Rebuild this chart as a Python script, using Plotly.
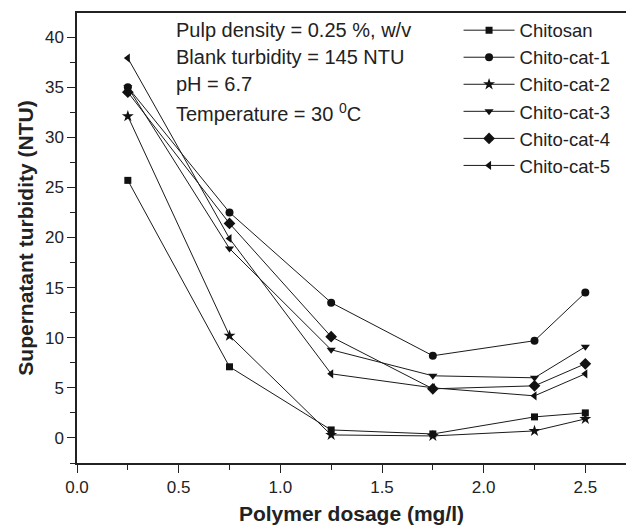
import plotly.graph_objects as go

dosage = [0.25, 0.75, 1.25, 1.75, 2.25, 2.5]
chitosan = [25.7, 7.1, 0.8, 0.4, 2.1, 2.5]
cat1 = [35.0, 22.5, 13.5, 8.2, 9.7, 14.5]
cat2 = [32.1, 10.2, 0.3, 0.2, 0.7, 1.9]
cat3 = [35.0, 18.9, 8.8, 6.2, 6.0, 9.1]
cat4 = [34.5, 21.4, 10.1, 4.9, 5.2, 7.4]
cat5 = [37.9, 19.9, 6.4, 5.0, 4.2, 6.4]

names = ["Chitosan", "Chito-cat-1", "Chito-cat-2", "Chito-cat-3", "Chito-cat-4", "Chito-cat-5"]
series = [chitosan, cat1, cat2, cat3, cat4, cat5]
symbols = ["square", "circle", "star", "triangle-down", "diamond", "triangle-left"]
sizes = [7, 8, 9, 8, 9, 8]

info_lines = ["Pulp density = 0.25 %, w/v", "Blank turbidity = 145 NTU", "pH = 6.7",
              "Temperature = 30 <sup>0</sup>C"]
info_y = [0.962, 0.902, 0.842, 0.778]

fig = go.Figure()
for i, (n, s, sym, sz) in enumerate(zip(names, series, symbols, sizes)):
    fig.add_trace(go.Scatter(
        x=dosage, y=s, name=n, mode="lines+markers",
        line=dict(color="#1a1a1a", width=1),
        marker=dict(symbol=sym, size=sz, color="#111111"),
    ))

font = "Liberation Sans, Arial, sans-serif"
for t, yy in zip(info_lines, info_y):
    fig.add_annotation(
        x=0.176, y=yy, xref="paper", yref="paper", xanchor="left", yanchor="middle",
        align="left", showarrow=False, text=t,
        font=dict(family=font, size=20, color="#222"),
    )

fig.update_layout(
    width=626, height=526,
    margin=dict(l=77, r=0, t=13, b=63),
    paper_bgcolor="white", plot_bgcolor="white",
    font=dict(family=font, size=17, color="#222"),
    showlegend=True,
    legend=dict(x=0.695, y=1.003, xanchor="left", yanchor="top",
                font=dict(family=font, size=18.5, color="#222"),
                itemwidth=51, bgcolor="rgba(0,0,0,0)", borderwidth=0),
    xaxis=dict(range=[0, 2.7], tickvals=[0, 0.5, 1.0, 1.5, 2.0, 2.5],
               ticktext=["0.0", "0.5", "1.0", "1.5", "2.0", "2.5"],
               ticks="outside", ticklen=8, tickcolor="#222", showgrid=False, zeroline=False,
               showline=True, linecolor="#222", linewidth=1.5, mirror=True,
               minor=dict(tickvals=[0.25, 0.75, 1.25, 1.75, 2.25], ticks="outside", ticklen=5, tickcolor="#222"),
               title=dict(text="<b>Polymer dosage (mg/l)</b>", font=dict(family=font, size=21), standoff=10),
               tickfont=dict(size=17)),
    yaxis=dict(range=[-2.5, 42.4], tickvals=[0, 5, 10, 15, 20, 25, 30, 35, 40],
               ticks="outside", ticklen=8, tickcolor="#222", showgrid=False, zeroline=False,
               showline=True, linecolor="#222", linewidth=1.5, mirror=False,
               minor=dict(tickvals=[-2.5, 2.5, 7.5, 12.5, 17.5, 22.5, 27.5, 32.5, 37.5, 42.5], ticks="outside", ticklen=5, tickcolor="#222"),
               title=dict(text="<b>Supernatant turbidity (NTU)</b>", font=dict(family=font, size=21), standoff=6),
               tickfont=dict(size=17)),
)

fig.write_html("out.html")
